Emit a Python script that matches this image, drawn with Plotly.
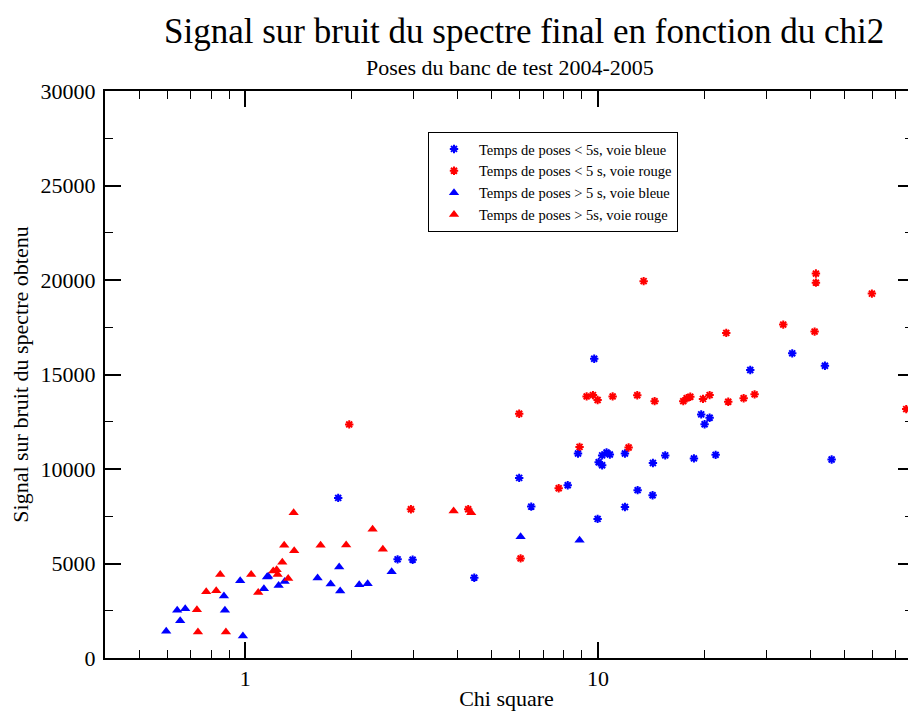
import plotly.graph_objects as go

# Exposures shorter than 5 s, blue channel
chi_short_blue = [1.834, 2.703, 2.982, 4.460, 9.76, 5.98, 6.47, 8.21, 8.78, 9.98,
                  10.05, 10.28, 10.28, 10.58, 10.81, 11.93, 12.96, 14.32, 14.29, 11.93,
                  15.52, 18.72, 19.63, 20.74, 20.07, 21.57, 27.04, 35.57, 44.04, 46.01]
snr_short_blue = [8470, 5220, 5200, 4250, 15830, 9530, 8010, 9140, 10820, 7360,
                  10360, 10200, 10720, 10870, 10770, 10820, 8880, 10320, 8610, 7990,
                  10720, 10560, 12890, 12710, 12370, 10750, 15240, 16120, 15460, 10500]

# Exposures shorter than 5 s, red channel
chi_short_red = [1.971, 2.949, 4.287, 5.98, 6.035, 7.74, 8.87, 9.29, 9.68, 9.98,
                 11.01, 12.22, 12.93, 13.48, 14.48, 17.46, 17.85, 18.28, 19.86, 20.74,
                 23.12, 23.42, 25.90, 27.82, 33.54, 41.17, 41.52, 41.52, 59.84, 74.88]
snr_short_red = [12360, 7870, 7870, 12920, 5270, 8980, 11170, 13840, 13910, 13650,
                 13840, 11140, 13900, 19940, 13590, 13590, 13740, 13820, 13710, 13910,
                 17200, 13560, 13740, 13950, 17640, 17270, 20340, 19860, 19280, 13170]

# Exposures longer than 5 s, blue channel
chi_long_blue = [0.5966, 0.641, 0.6754, 0.6536, 0.8696, 0.8753, 0.967, 0.9844, 1.152, 1.161,
                 1.129, 1.243, 1.293, 1.603, 1.746, 1.858, 1.846, 2.104, 2.223, 2.600,
                 6.035, 8.87]
snr_long_blue = [1420, 2520, 2610, 1970, 3280, 2520, 4090, 1160, 4280, 4330,
                 3670, 3830, 4050, 4230, 3910, 3540, 4810, 3880, 3930, 4570,
                 6420, 6230]

# Exposures longer than 5 s, red channel
chi_long_red = [0.729, 0.734, 0.881, 0.7747, 0.827, 0.8488, 1.039, 1.088, 1.200, 1.227,
                1.235, 1.273, 1.323, 1.289, 1.376, 1.371, 1.635, 1.932, 2.296, 2.455,
                3.897, 4.371]
snr_long_red = [2550, 1370, 1370, 3510, 3560, 4420, 4420, 3470, 4600, 4670,
                4420, 5060, 4200, 5960, 5680, 7690, 5960, 5980, 6810, 5750,
                7780, 7690]

x_major_ticks = [1, 10]
x_major_labels = ["1", "10"]
x_minor_ticks = [0.4, 0.5, 0.6, 0.7, 0.8, 0.9, 2, 3, 4, 5, 6, 7, 8, 9,
                 20, 30, 40, 50, 60, 70, 80]
y_major_ticks = [0, 5000, 10000, 15000, 20000, 25000, 30000]
y_major_labels = ["0", "5000", "10000", "15000", "20000", "25000", "30000"]

FONT = "Liberation Serif"
BLUE = "#0000ff"
RED = "#ff0000"

fig = go.Figure()


def star_trace(x, y, color, name):
    return go.Scatter(
        x=x, y=y, mode="markers", name=name,
        marker=dict(symbol="asterisk", size=7, color=color,
                    line=dict(color=color, width=2)),
    )


def tri_trace(x, y, color, name):
    return go.Scatter(
        x=x, y=y, mode="markers", name=name,
        marker=dict(symbol="triangle-up", size=9, color=color, line=dict(width=0)),
    )


fig.add_trace(star_trace(chi_short_blue, snr_short_blue, BLUE,
                         "Temps de poses < 5s, voie bleue"))
fig.add_trace(star_trace(chi_short_red, snr_short_red, RED,
                         "Temps de poses < 5 s, voie rouge"))
fig.add_trace(tri_trace(chi_long_blue, snr_long_blue, BLUE,
                        "Temps de poses > 5 s, voie bleue"))
fig.add_trace(tri_trace(chi_long_red, snr_long_red, RED,
                        "Temps de poses > 5s, voie rouge"))

# empty trace that carries the right-hand tick axis
fig.add_trace(go.Scatter(x=[], y=[], yaxis="y2", showlegend=False, hoverinfo="skip"))

W, H = 908, 713
left, top, bottom = 105, 91, 658
plot_w = W - left
plot_h = bottom - top


def px_x(px):
    return (px - left) / plot_w


def px_y(py):
    return (bottom - py) / plot_h


fig.update_layout(
    width=W, height=H,
    margin=dict(l=left, r=0, t=top, b=H - bottom, pad=0),
    paper_bgcolor="white", plot_bgcolor="white",
    font=dict(family=FONT, color="black", size=22),
    showlegend=True,
    legend=dict(
        x=px_x(428), y=px_y(132), xanchor="left", yanchor="top",
        bgcolor="white", bordercolor="black", borderwidth=1,
        font=dict(family=FONT, size=14.5, color="black"),
        itemwidth=40, tracegroupgap=0,
    ),
    xaxis=dict(
        type="log", range=[-0.39794, 1.8794],
        showline=True, linecolor="black", linewidth=2, mirror="ticks",
        showgrid=False, zeroline=False,
        ticks="inside", ticklen=16, tickwidth=1.5, tickcolor="black",
        tickvals=x_major_ticks, ticktext=x_major_labels,
        tickfont=dict(family=FONT, size=22),
        minor=dict(ticks="inside", ticklen=8, tickwidth=1.2, tickcolor="black",
                   tickvals=x_minor_ticks, showgrid=False),
        title=dict(text="Chi square", font=dict(family=FONT, size=22), standoff=0),
    ),
    yaxis=dict(
        range=[0, 30000],
        showline=True, linecolor="black", linewidth=2, mirror=False,
        showgrid=False, zeroline=False,
        ticks="inside", ticklen=16, tickwidth=1.5, tickcolor="black",
        tickvals=y_major_ticks, ticktext=y_major_labels,
        tickfont=dict(family=FONT, size=22),
        ticklabelstandoff=3,
        minor=dict(ticks="inside", ticklen=8, tickwidth=1.2, tickcolor="black",
                   dtick=2500, showgrid=False),
        title=dict(text="Signal sur bruit du spectre obtenu",
                   font=dict(family=FONT, size=22), standoff=6),
    ),
    yaxis2=dict(
        range=[0, 30000], overlaying="y", side="right", anchor="x",
        showline=False, showgrid=False, zeroline=False, showticklabels=False,
        ticks="inside", ticklen=10, tickwidth=1.5, tickcolor="black",
        tickvals=y_major_ticks,
        minor=dict(ticks="inside", ticklen=3, tickwidth=1.2, tickcolor="black",
                   dtick=2500, showgrid=False),
    ),
    annotations=[
        dict(text="Signal sur bruit du spectre final en fonction du chi2",
             xref="paper", yref="paper", x=px_x(523.5), y=px_y(31),
             xanchor="center", yanchor="middle", showarrow=False,
             font=dict(family=FONT, size=35, color="black")),
        dict(text="Poses du banc de test 2004-2005",
             xref="paper", yref="paper", x=px_x(509.5), y=px_y(68),
             xanchor="center", yanchor="middle", showarrow=False,
             font=dict(family=FONT, size=22, color="black")),
    ],
)

fig.write_html("out.html")
